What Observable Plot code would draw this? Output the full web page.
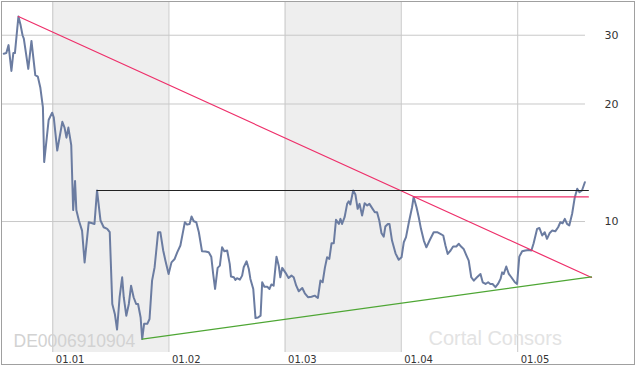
<!DOCTYPE html>
<html>
<head>
<meta charset="utf-8">
<script src="https://cdn.jsdelivr.net/npm/d3@7"></script>
<script src="https://cdn.jsdelivr.net/npm/@observablehq/plot@0.6"></script>
<style>
  html, body { margin: 0; padding: 0; background: #fff; }
  #chart svg { display: block; }
</style>
</head>
<body>
<div id="chart"></div>
<script>
// ---- data ----
const dates = [
"2000-07-31","2000-08-08","2000-08-15","2000-08-24","2000-08-30","2000-09-04","2000-09-15","2000-09-22","2000-09-28","2000-10-02",
"2000-10-16","2000-10-26","2000-11-07","2000-11-15","2000-11-23","2000-12-01","2000-12-05","2000-12-19","2000-12-30","2001-01-04",
"2001-01-15","2001-01-31","2001-02-07","2001-02-13","2001-02-19","2001-02-28","2001-03-06","2001-03-12","2001-03-16","2001-03-24",
"2001-04-03","2001-04-11","2001-04-24","2001-05-05","2001-05-12","2001-05-20","2001-05-31","2001-06-10","2001-06-21","2001-06-29",
"2001-07-07","2001-07-15","2001-07-22","2001-07-30","2001-08-07","2001-08-12","2001-08-20","2001-08-28","2001-09-04","2001-09-12",
"2001-09-20","2001-09-26","2001-10-04","2001-10-09","2001-10-15","2001-10-25","2001-11-01","2001-11-09","2001-11-17","2001-11-28",
"2001-12-05","2001-12-14","2001-12-21","2001-12-31","2002-01-09","2002-01-19","2002-01-27","2002-02-06","2002-02-13","2002-02-20",
"2002-02-27","2002-03-07","2002-03-13","2002-03-20","2002-03-28","2002-04-05","2002-04-15","2002-04-26","2002-05-06","2002-05-14",
"2002-05-20","2002-05-26","2002-06-03","2002-06-10","2002-06-17","2002-06-24","2002-07-03","2002-07-11","2002-07-15","2002-07-24",
"2002-07-29","2002-08-03","2002-08-12","2002-08-19","2002-08-24","2002-09-02","2002-09-09","2002-09-14","2002-09-23","2002-09-30",
"2002-10-08","2002-10-16","2002-10-21","2002-10-28","2002-11-06","2002-11-13","2002-11-19","2002-11-26","2002-12-05","2002-12-12",
"2002-12-17","2002-12-23","2003-01-02","2003-01-12","2003-01-21","2003-01-28","2003-02-05","2003-02-13","2003-02-24","2003-03-04",
"2003-03-14","2003-03-25","2003-04-04","2003-04-14","2003-04-22","2003-04-29","2003-05-06","2003-05-13","2003-05-20","2003-05-27",
"2003-06-03","2003-06-10","2003-06-19","2003-06-24","2003-06-29","2003-07-07","2003-07-15","2003-07-20","2003-07-25","2003-08-03",
"2003-08-10","2003-08-17","2003-08-23","2003-08-31","2003-09-08","2003-09-16","2003-09-23","2003-10-01","2003-10-10","2003-10-17",
"2003-10-24","2003-10-31","2003-11-07","2003-11-12","2003-11-20","2003-11-25","2003-12-03","2003-12-14","2003-12-24","2004-01-02",
"2004-01-09","2004-01-16","2004-01-25","2004-02-04","2004-02-09","2004-02-18","2004-02-25","2004-03-03","2004-03-12","2004-03-20",
"2004-03-30","2004-04-12","2004-04-23","2004-05-03","2004-05-12","2004-05-19","2004-05-26","2004-06-04","2004-06-12","2004-06-22",
"2004-06-30","2004-07-07","2004-07-15","2004-07-24","2004-07-31","2004-08-08","2004-08-16","2004-08-26","2004-09-06","2004-09-13",
"2004-09-22","2004-09-30","2004-10-07","2004-10-14","2004-10-23","2004-10-31","2004-11-08","2004-11-13","2004-11-18","2004-11-26",
"2004-12-04","2004-12-12","2004-12-23","2004-12-30","2005-01-06","2005-01-15","2005-01-25","2005-02-05","2005-02-13","2005-02-20",
"2005-03-03","2005-03-10","2005-03-19","2005-03-27","2005-04-03","2005-04-11","2005-04-19","2005-04-29","2005-05-08","2005-05-15",
"2005-05-22","2005-05-29","2005-06-05","2005-06-12","2005-06-21","2005-06-29","2005-07-07","2005-07-14","2005-07-22","2005-07-31"
];
const prices = [
26.9,27.0,28.3,24.3,27.0,27.0,33.5,31.8,30.0,29.4,
24.6,29.0,23.7,23.5,22.0,19.6,14.2,18.2,19.0,18.5,
15.2,18.0,17.4,16.4,17.4,15.7,10.7,12.7,10.7,10.06,
9.48,7.86,9.96,9.90,9.86,12.01,10.06,9.67,9.58,9.39,
6.15,5.80,5.29,6.40,7.20,6.40,5.74,6.15,6.85,6.40,
6.15,6.15,5.68,5.00,5.47,5.47,5.63,7.06,7.64,9.39,
9.39,8.43,7.94,7.34,7.86,8.02,8.34,8.68,9.30,9.96,
9.82,9.86,10.30,10.02,9.96,9.39,8.39,8.38,8.34,8.13,
7.34,6.72,7.61,7.71,8.59,8.39,8.43,7.79,7.23,7.20,
7.09,7.16,7.10,7.27,7.64,7.91,7.56,7.13,6.72,5.66,
5.68,5.74,6.99,6.81,6.81,6.72,6.90,6.85,8.13,7.71,
7.20,7.61,7.40,7.17,7.27,7.20,6.85,6.63,6.76,6.55,
6.40,6.42,6.46,6.37,7.06,6.99,7.61,8.10,8.02,8.80,
8.80,10.10,9.86,10.16,9.86,10.26,11.10,11.27,11.06,12.01,
11.73,10.78,11.10,10.36,11.14,10.99,11.10,10.84,10.56,10.56,
10.06,9.33,9.15,9.71,9.86,9.86,8.94,8.29,7.98,8.10,
8.85,9.12,9.96,10.88,11.56,10.88,10.26,9.58,8.94,8.59,
8.94,9.39,9.39,9.30,9.21,8.68,8.26,8.43,8.63,8.63,
8.77,8.63,8.51,8.18,7.94,7.20,7.06,7.20,7.34,6.99,
6.92,6.99,6.92,6.92,6.79,6.92,7.13,7.41,7.34,7.67,
7.34,7.20,6.99,6.92,8.13,8.39,8.43,8.46,8.43,8.80,
9.58,9.63,9.21,9.39,9.03,9.33,9.48,9.44,9.67,9.96,
9.90,10.16,9.86,9.77,10.47,11.50,12.13,11.89,12.01,12.61
];
// trend lines: [date, value]
const downTrend  = [["2000-09-15", 33.5], ["2005-08-21", 7.19]];
const support    = [["2001-10-09", 5.00], ["2005-08-21", 7.22]];
const resistance = [["2001-05-20", 12.01], ["2005-08-11", 12.01]];
const breakout   = [["2004-02-09", 11.56], ["2005-08-11", 11.56]];
// shaded years
const bandStarts = ["2001-01-01", "2003-01-01"];
const bandEnds   = ["2002-01-01", "2004-01-01"];
// axis ticks
const xTicks = ["2001-01-01", "2002-01-01", "2003-01-01", "2004-01-01", "2005-01-01"];
const yTicks = [10, 20, 30];
const isin = "DE0006910904";
const brand = "Cortal Consors";

// ---- build ----
const P = d3.utcParse("%Y-%m-%d");
const series = dates.map((d, i) => ({date: P(d), value: prices[i]}));
const toPts = a => a.map(([d, v]) => ({date: P(d), value: v}));
const bands = bandStarts.map((s, i) => ({x1: P(s), x2: P(bandEnds[i])}));
const xt = xTicks.map(P);
const xStart = P("2000-07-27"), xEnd = P("2005-08-24"), gridEnd = P("2005-08-02");

const chart = Plot.plot({
  width: 637,
  height: 367,
  marginLeft: 2,
  marginRight: 45,
  marginTop: 1,
  marginBottom: 15,
  style: {fontFamily: "DejaVu Sans, sans-serif", fontSize: "10px", color: "#333", background: "#fff", overflow: "visible"},
  x: {type: "utc", domain: [xStart, xEnd]},
  y: {type: "log", domain: [4.62, 36.6]},
  marks: [
    Plot.rectX(bands, {x1: "x1", x2: "x2", fill: "#eeeeee"}),
    Plot.ruleX(xt, {stroke: "#c8c8c8", strokeWidth: 1}),
    Plot.ruleY(yTicks, {x1: () => xStart, x2: () => gridEnd, stroke: "#c8c8c8", strokeWidth: 1}),
    Plot.text([isin], {frameAnchor: "bottom-left", dx: 11, dy: -6, lineAnchor: "bottom", textAnchor: "start", fontSize: 17.5, fill: "#d2d2d2", fontFamily: "Liberation Sans"}),
    Plot.text([brand], {frameAnchor: "bottom-left", dx: 426, dy: -8, lineAnchor: "bottom", textAnchor: "start", fontSize: 20, fill: "#e3e3e3", fontFamily: "Liberation Sans"}),
    Plot.line(series, {x: "date", y: "value", stroke: "#6b7ca1", strokeWidth: 2, strokeLinejoin: "round"}),
    Plot.line(toPts(downTrend), {x: "date", y: "value", stroke: "#ee2f6a", strokeWidth: 1.2}),
    Plot.line(toPts(support), {x: "date", y: "value", stroke: "#4ea634", strokeWidth: 1.2}),
    Plot.line(toPts(resistance), {x: "date", y: "value", stroke: "#222", strokeWidth: 1.2}),
    Plot.line(toPts(breakout), {x: "date", y: "value", stroke: "#ee2f6a", strokeWidth: 1.2}),
    Plot.axisY({ticks: yTicks, anchor: "right", tickSize: 0, tickPadding: 12, label: null, tickFormat: d => String(d), fontSize: 11}),
    Plot.axisX({ticks: xt, anchor: "bottom", tickSize: 0, tickPadding: 3, textAnchor: "start", dx: 3, label: null, tickFormat: d3.utcFormat("%m.%y"), fontSize: 10})
  ]
});

// outer border of the chart box
d3.select(chart).append("rect")
  .attr("x", 1.5).attr("y", 1.5).attr("width", 633).attr("height", 363)
  .attr("fill", "none").attr("stroke", "#a0a0a0");

document.getElementById("chart").appendChild(chart);
</script>
</body>
</html>
